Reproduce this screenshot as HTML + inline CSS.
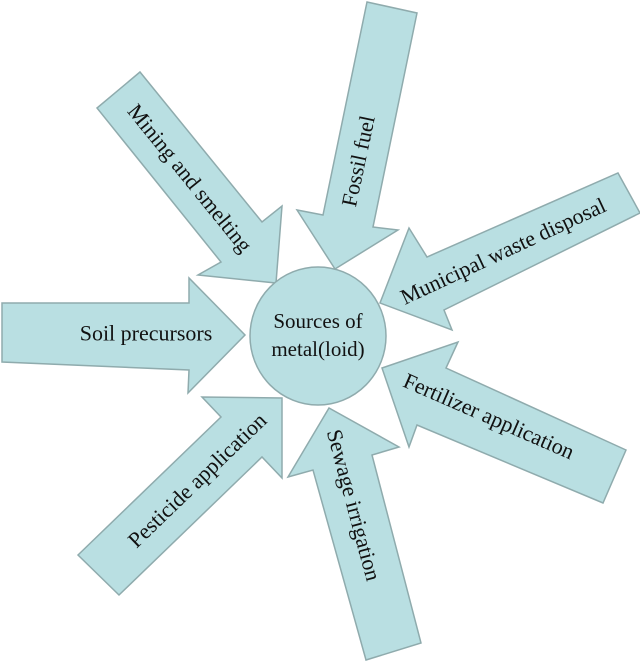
<!DOCTYPE html>
<html><head><meta charset="utf-8"><style>
html,body{margin:0;padding:0;background:#fff;}
svg{display:block;}
text{font-family:"Liberation Serif",serif;font-size:22px;fill:#111;}
</style></head><body>
<svg width="640" height="661" viewBox="0 0 640 661">
<g fill="#b9dfe2" stroke="#8fabad" stroke-width="1.5" stroke-linejoin="miter">
<polygon points="367,2 417,13 373,227 398,230 335,269 297,210 323,215"/>
<polygon points="140,72 262,222 282,206 276,283 198,275 221,262 97,108"/>
<polygon points="618,173 640,213 444,310 452,330 380,303 409,228 427,257"/>
<polygon points="2,303 189,303 189,278 245,335 188,393 189,370 2,362"/>
<polygon points="78,555 221,417 202,397 282,398 282,478 262,457 119,595"/>
<polygon points="366,660 313,470 288,477 329,408 399,447 372,455 421,643"/>
<polygon points="626,450 446,368 458,342 382,368 409,447 417,425 603,503"/>
<ellipse cx="318" cy="336" rx="68" ry="69"/>
</g>
<g text-anchor="middle" dominant-baseline="central">
<text transform="translate(358,161) rotate(-78)">Fossil fuel</text>
<text transform="translate(190,178) rotate(51)">Mining and smelting</text>
<text transform="translate(503,251) rotate(-25)">Municipal waste disposal</text>
<text transform="translate(146,333)">Soil precursors</text>
<text transform="translate(197,480) rotate(-44)">Pesticide application</text>
<text transform="translate(354,505) rotate(75)">Sewage irrigation</text>
<text transform="translate(489,416) rotate(23.6)">Fertilizer application</text>
<text x="318" y="321" style="font-size:21px">Sources of</text>
<text x="318" y="349" style="font-size:21px">metal(loid)</text>
</g>
</svg>
</body></html>
